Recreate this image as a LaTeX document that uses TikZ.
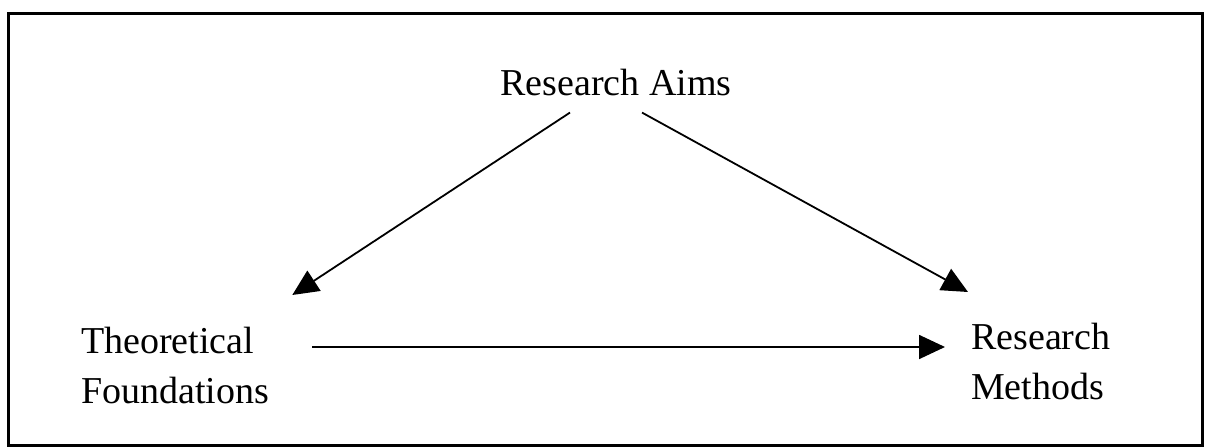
\documentclass[tikz,border=0pt]{standalone}
\usepackage{fontspec}
\setmainfont{Liberation Serif}
\usepackage{tikz}
\usetikzlibrary{positioning,arrows.meta}

\begin{document}
\begin{tikzpicture}[x=1pt, y=-1pt,
  label/.style={inner sep=0pt, font=\fontsize{38}{50}\selectfont, align=left},
  arrow/.style={-{Triangle[length=26pt, width=24pt]}, line width=1.8pt, black}
]
  \useasboundingbox (0,0) rectangle (1205,447);
  \draw[line width=3pt] (8,13) rectangle (1202,445);

  \node[label, anchor=base] (aims) at (616,95) {Research Aims};
  \node[label, anchor=north west] (theory) at (81,327) {Theoretical\\Foundations};
  \node[label, anchor=north west] (methods) at (971,323) {Research\\Methods};

  \draw[arrow] ([xshift=-46pt, yshift=-17pt]aims.south) -- ([xshift=23pt, yshift=32pt]theory.north east);
  \draw[arrow] ([xshift=26pt, yshift=-17pt]aims.south) -- ([xshift=-3pt, yshift=31pt]methods.north west);
  \draw[arrow] ([xshift=43pt, yshift=-20pt]theory.north east) -- ([xshift=-26pt, yshift=-24pt]methods.north west);
\end{tikzpicture}
\end{document}
